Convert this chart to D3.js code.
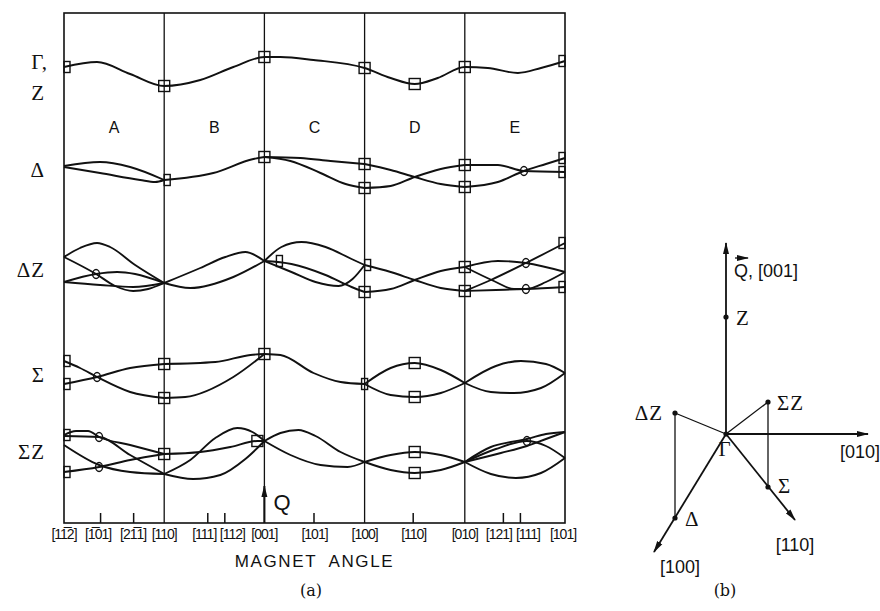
<!DOCTYPE html>
<html>
<head>
<meta charset="utf-8">
<script src="https://cdn.jsdelivr.net/npm/d3@7"></script>
<style>
  body { margin: 0; background: #fff; }
</style>
</head>
<body>
<script>
// ---- data: x in segment units (0..5 = [112] .. [101]), y in arbitrary energy units ----
const segLetters = ['A', 'B', 'C', 'D', 'E'];
const segLetterV = 39.6;
const dividers = [1, 2, 3, 4];
const minorTicks = [0.36, 0.69, 1.43, 1.6, 2.49, 3.48, 4.38, 4.55];
const tickLabels = ['[11\u03052]', '[1\u030501]', '[21\u03051]', '[110]', '[111]', '[112]', '[001]',
  '[101]', '[100]', '[110]', '[010]', '[121]', '[111]', '[101]'];
const tickLabelAt = [0, 0.34, 0.69, 1.0, 1.4, 1.68, 2, 2.5, 3, 3.49, 4, 4.34, 4.63, 4.98];

const bandLabels = ['\u0393,', 'Z', '\u0394', '\u0394Z', '\u03A3', '\u03A3Z'];
const bandLabelV = [46.1, 43.0, 35.3, 25.3, 14.8, 7.1];

const gammaZ = [
  [[0, 45.6], [0.33, 46.1], [0.66, 44.9], [1, 43.7], [1.36, 44.3], [1.69, 45.6], [2, 46.6],
   [2.16, 46.6], [2.49, 46.3], [3, 45.5], [3.26, 44.5], [3.5, 43.9], [3.73, 44.5], [4, 45.6],
   [4.23, 45.5], [4.53, 45.0], [4.76, 45.5], [5, 46.2]]
];
const delta = [
  [[0, 35.7], [0.36, 36.1], [0.66, 35.6], [1, 34.3]],
  [[0, 35.6], [0.36, 35.0], [0.76, 34.3], [0.91, 34.1], [1, 34.3]],
  [[1, 34.3], [1.49, 35.0], [1.89, 36.4], [2, 36.6]],
  [[2, 36.6], [2.36, 36.5], [2.66, 36.2], [3, 35.9]],
  [[2, 36.6], [2.26, 36.2], [2.56, 35.0], [2.81, 33.9], [3, 33.5]],
  [[3, 35.9], [3.26, 35.3], [3.5, 34.6], [3.76, 33.9], [4, 33.6]],
  [[3, 33.5], [3.26, 33.7], [3.5, 34.6], [3.76, 35.4], [4, 35.8]],
  [[4, 35.8], [4.33, 35.8], [4.59, 35.2], [5, 35.1]],
  [[4, 33.6], [4.33, 34.1], [4.59, 35.2], [4.81, 35.9], [5, 36.5]]
];
const deltaZ = [
  [[0, 26.6], [0.16, 27.5], [0.33, 28.0], [0.46, 27.6], [0.71, 25.8], [1, 24.0]],
  [[0, 26.6], [0.32, 24.9], [0.51, 23.7], [0.69, 23.2], [0.84, 23.4], [1, 24.0]],
  [[0, 24.1], [0.32, 24.9], [0.53, 25.1], [0.71, 24.9], [1, 24.0]],
  [[0, 24.1], [0.36, 23.8], [0.69, 23.6], [1, 24.0]],
  [[1, 24.0], [1.36, 25.5], [1.61, 26.6], [1.81, 27.1], [2, 26.2]],
  [[1, 24.0], [1.26, 23.5], [1.69, 24.6], [2, 26.2]],
  [[2, 26.2], [2.17, 27.6], [2.37, 28.1], [2.61, 27.6], [2.87, 26.4], [3, 25.8]],
  [[2, 26.2], [2.27, 25.9], [2.61, 24.8], [2.87, 23.6], [3, 23.1]],
  [[2, 26.2], [2.27, 25.1], [2.51, 24.1], [2.74, 23.7], [2.88, 24.4], [3, 25.8]],
  [[3, 25.8], [3.26, 25.1], [3.5, 24.3], [3.76, 23.5], [4, 23.2]],
  [[3, 23.1], [3.26, 23.4], [3.5, 24.3], [3.76, 25.2], [4, 25.6]],
  [[4, 25.6], [4.33, 26.2], [4.61, 26.0], [5, 25.1]],
  [[4, 25.6], [4.29, 24.2], [4.49, 23.4], [4.61, 23.4], [4.81, 24.1], [5, 25.1]],
  [[4, 23.2], [4.31, 23.3], [4.61, 23.4], [5, 23.6]],
  [[4, 23.2], [4.26, 24.3], [4.61, 26.0], [5, 28.0]]
];
const sigma = [
  [[0, 16.2], [0.16, 15.5], [0.33, 14.6], [0.66, 13.1], [1, 12.5]],
  [[0, 13.9], [0.33, 14.6], [0.66, 15.5], [1, 15.9]],
  [[1, 15.9], [1.51, 16.1], [1.86, 16.8], [2, 16.9]],
  [[1, 12.5], [1.21, 12.6], [1.69, 14.6], [2, 16.9]],
  [[2, 16.9], [2.16, 16.8], [2.49, 15.0], [2.76, 14.1], [3, 13.9]],
  [[3, 13.9], [3.26, 15.5], [3.5, 16.0], [3.76, 15.3], [4, 14.0]],
  [[3, 13.9], [3.26, 12.8], [3.5, 12.6], [3.76, 13.0], [4, 14.0]],
  [[4, 14.0], [4.31, 15.7], [4.56, 16.2], [4.81, 15.9], [5, 15.0]],
  [[4, 14.0], [4.26, 13.1], [4.49, 13.0], [4.76, 13.5], [5, 15.0]]
];
const sigmaZ = [
  [[0, 8.8], [0.12, 9.2], [0.24, 9.2], [0.35, 8.6], [0.66, 7.8], [1, 6.9]],
  [[0, 8.7], [0.35, 8.6], [0.66, 6.8], [1, 4.9]],
  [[0, 7.8], [0.35, 5.8], [0.66, 5.1], [1, 4.9]],
  [[0, 5.1], [0.35, 5.6], [0.66, 6.3], [1, 6.9]],
  [[1, 6.9], [1.36, 7.1], [1.66, 7.6], [1.93, 8.2], [2, 8.2]],
  [[1, 4.9], [1.29, 4.4], [1.56, 4.8], [1.81, 6.4], [2, 8.2]],
  [[1, 4.9], [1.26, 6.3], [1.51, 8.5], [1.73, 9.5], [1.88, 9.1], [2, 8.2]],
  [[2, 8.2], [2.16, 9.0], [2.34, 9.3], [2.51, 8.7], [2.76, 7.1], [3, 6.1]],
  [[2, 8.2], [2.26, 6.8], [2.56, 5.8], [2.83, 5.6], [3, 6.1]],
  [[3, 6.1], [3.26, 6.8], [3.5, 7.1], [3.76, 6.8], [4, 6.1]],
  [[3, 6.1], [3.26, 5.3], [3.5, 5.0], [3.76, 5.3], [4, 6.1]],
  [[4, 6.1], [4.26, 7.6], [4.46, 8.1], [4.62, 8.4], [4.81, 8.9], [5, 9.1]],
  [[4, 6.1], [4.31, 7.4], [4.62, 8.2], [4.81, 7.7], [5, 6.5]],
  [[4, 6.1], [4.36, 7.0], [4.62, 7.7], [4.81, 8.4], [5, 9.1]],
  [[4, 6.1], [4.26, 4.9], [4.51, 4.5], [4.76, 5.0], [5, 6.5]]
];

// markers
const squares = [[1, 43.7], [2, 46.6], [3, 45.5], [3.5, 43.9], [4, 45.6],
  [2, 36.6], [3, 35.9], [3, 33.5], [4, 35.8], [4, 33.6],
  [3, 23.1], [4, 25.6], [4, 23.2],
  [1, 15.9], [1, 12.5], [2, 16.9], [3.5, 16.0], [3.5, 12.6],
  [1, 6.9], [1.93, 8.2], [3.5, 7.1], [3.5, 5.0]];
const halfRightOf = [[0, 45.6], [1, 34.3], [2.12, 26.2], [3, 25.8], [0, 16.2], [0, 13.9], [2.97, 13.9], [0, 8.8], [0, 5.1]];
const halfLeftOf = [[5, 46.2], [5, 36.5], [5, 35.1], [5, 28.0], [5, 23.6]];
const rings = [[4.59, 35.2], [0.32, 24.9], [4.61, 26.0], [4.61, 23.4], [0.33, 14.6],
  [0.35, 8.6], [0.35, 5.6], [4.62, 8.2]];
const qArrowTop = 3.7;

// panel (b): points in its own units, origin at Gamma
const bPoints = [
  { name: '\u0393', p: [0, 0] },
  { name: 'Z', p: [0, 1.17] },
  { name: '\u0394Z', p: [-0.51, 0.21] },
  { name: '\u0394', p: [-0.51, -0.84] },
  { name: '\u03A3', p: [0.42, -0.53] },
  { name: '\u03A3Z', p: [0.42, 0.32] }
];
const bArrows = [
  { name: '[001]', tip: [0, 1.91] },
  { name: '[100]', tip: [-0.72, -1.18] },
  { name: '[110]', tip: [0.69, -0.86] },
  { name: '[010]', tip: [1.42, 0] }
];
const bLinks = [['\u0393', '\u0394Z'], ['\u0394Z', '\u0394'], ['\u0393', '\u03A3Z'], ['\u03A3Z', '\u03A3']];

// ---- drawing ----
const width = 880, height = 611;
const marginLeft = 64, plotRight = 565, marginTop = 13, plotBottom = 523;
const ink = '#111';

const svg = d3.select('body').append('svg')
  .attr('width', width)
  .attr('height', height)
  .attr('viewBox', [0, 0, width, height]);

const defs = svg.append('defs');
defs.append('marker')
  .attr('id', 'head')
  .attr('viewBox', '0 0 12 8')
  .attr('refX', 11).attr('refY', 4)
  .attr('markerWidth', 12).attr('markerHeight', 8)
  .attr('markerUnits', 'userSpaceOnUse')
  .attr('orient', 'auto')
  .append('path')
  .attr('d', 'M0,1 L12,4 L0,7 Z')
  .attr('fill', ink);

const x = d3.scaleLinear([0, 5], [marginLeft, plotRight]);
const y = d3.scaleLinear([0, 51], [plotBottom, marginTop]);

// frame
svg.append('rect')
  .attr('x', marginLeft).attr('y', marginTop)
  .attr('width', plotRight - marginLeft).attr('height', plotBottom - marginTop)
  .attr('fill', 'none').attr('stroke', ink).attr('stroke-width', 1.6);

svg.append('g')
  .selectAll('line')
  .data(dividers)
  .join('line')
  .attr('x1', d => x(d)).attr('x2', d => x(d))
  .attr('y1', marginTop).attr('y2', plotBottom)
  .attr('stroke', ink).attr('stroke-width', 1.3);

// bottom axis: small inward ticks, labels placed separately
const axis = svg.append('g')
  .attr('transform', `translate(0,${plotBottom})`)
  .call(d3.axisBottom(x).tickValues(minorTicks).tickSize(-10).tickFormat(''));
axis.select('.domain').remove();
axis.selectAll('.tick line').attr('stroke', ink).attr('stroke-width', 1.5);

svg.append('g')
  .selectAll('text')
  .data(tickLabels)
  .join('text')
  .attr('x', (d, i) => x(tickLabelAt[i]))
  .attr('y', plotBottom + 16)
  .attr('text-anchor', 'middle')
  .style('font-family', 'Liberation Sans, Arial, sans-serif')
  .style('font-size', '14px')
  .style('letter-spacing', '-1px')
  .attr('fill', ink)
  .text(d => d);

svg.append('text')
  .attr('x', x(2.5))
  .attr('y', 567)
  .attr('text-anchor', 'middle')
  .style('font-family', 'Liberation Sans, Arial, sans-serif')
  .style('font-size', '17px')
  .style('letter-spacing', '1.6px')
  .style('white-space', 'pre')
  .attr('fill', ink)
  .text('MAGNET  ANGLE');

svg.append('text')
  .attr('x', 311).attr('y', 596)
  .attr('text-anchor', 'middle')
  .style('font-family', 'DejaVu Serif, serif')
  .style('font-size', '16px')
  .attr('fill', ink)
  .text('(a)');

// Q arrow on the [001] line
svg.append('line')
  .attr('x1', x(2)).attr('x2', x(2))
  .attr('y1', y(0)).attr('y2', y(qArrowTop))
  .attr('stroke', ink).attr('stroke-width', 2)
  .attr('marker-end', 'url(#head)');
svg.append('text')
  .attr('x', x(2) + 9).attr('y', y(1.3))
  .style('font-family', 'Liberation Sans, Arial, sans-serif')
  .style('font-size', '22px')
  .attr('fill', ink)
  .text('Q');

// segment letters
svg.append('g')
  .selectAll('text')
  .data(segLetters)
  .join('text')
  .attr('x', (d, i) => x(i + 0.5))
  .attr('y', y(segLetterV))
  .attr('dy', '0.35em')
  .attr('text-anchor', 'middle')
  .style('font-family', 'Liberation Sans, Arial, sans-serif')
  .style('font-size', '16px')
  .attr('fill', ink)
  .text(d => d);

// band labels on the left
svg.append('g')
  .selectAll('text')
  .data(bandLabels)
  .join('text')
  .attr('x', (d, i) => i === 0 ? 48 : 45)
  .attr('y', (d, i) => y(bandLabelV[i]))
  .attr('dy', '0.35em')
  .attr('text-anchor', 'end')
  .style('font-family', 'Liberation Serif, Times New Roman, serif')
  .style('font-size', '21px')
  .style('letter-spacing', '1px')
  .attr('fill', ink)
  .text(d => d);

// curves
const line = d3.line()
  .x(d => x(d[0]))
  .y(d => y(d[1]))
  .curve(d3.curveMonotoneX);

const allCurves = [].concat(gammaZ, delta, deltaZ, sigma, sigmaZ);
svg.append('g')
  .selectAll('path')
  .data(allCurves)
  .join('path')
  .attr('d', line)
  .attr('fill', 'none')
  .attr('stroke', ink)
  .attr('stroke-width', 1.9);

// markers
const mk = svg.append('g')
  .attr('fill', 'none')
  .attr('stroke', ink)
  .attr('stroke-width', 1.4);
mk.selectAll('rect.full')
  .data(squares)
  .join('rect')
  .attr('class', 'full')
  .attr('x', d => x(d[0]) - 5.5).attr('y', d => y(d[1]) - 5.5)
  .attr('width', 11).attr('height', 11);
mk.selectAll('rect.hr')
  .data(halfRightOf)
  .join('rect')
  .attr('class', 'hr')
  .attr('x', d => x(d[0])).attr('y', d => y(d[1]) - 5.5)
  .attr('width', 6).attr('height', 11);
mk.selectAll('rect.hl')
  .data(halfLeftOf)
  .join('rect')
  .attr('class', 'hl')
  .attr('x', d => x(d[0]) - 6).attr('y', d => y(d[1]) - 5.5)
  .attr('width', 6).attr('height', 11);
mk.selectAll('ellipse')
  .data(rings)
  .join('ellipse')
  .attr('cx', d => x(d[0])).attr('cy', d => y(d[1]))
  .attr('rx', 3.5).attr('ry', 4.5);

// ---- panel (b) ----
const bx = d3.scaleLinear([0, 1], [726, 826]);
const by = d3.scaleLinear([0, 1], [434, 334]);
const pt = name => bPoints.find(p => p.name === name).p;
const pb = svg.append('g');

pb.selectAll('line.arrow')
  .data(bArrows)
  .join('line')
  .attr('class', 'arrow')
  .attr('x1', bx(0)).attr('y1', by(0))
  .attr('x2', d => bx(d.tip[0])).attr('y2', d => by(d.tip[1]))
  .attr('stroke', ink).attr('stroke-width', 1.8)
  .attr('marker-end', 'url(#head)');

pb.selectAll('line.link')
  .data(bLinks)
  .join('line')
  .attr('class', 'link')
  .attr('x1', d => bx(pt(d[0])[0])).attr('y1', d => by(pt(d[0])[1]))
  .attr('x2', d => bx(pt(d[1])[0])).attr('y2', d => by(pt(d[1])[1]))
  .attr('stroke', ink).attr('stroke-width', 1.3);

pb.selectAll('circle')
  .data(bPoints)
  .join('circle')
  .attr('cx', d => bx(d.p[0])).attr('cy', d => by(d.p[1]))
  .attr('r', 2.6)
  .attr('fill', ink);

// labels for points (offsets in px)
const bLabelOffset = {
  '\u0393': [-1, 22, 'middle'],
  'Z': [10, 8, 'start'],
  '\u0394Z': [-12, 7, 'end'],
  '\u0394': [10, 8, 'start'],
  '\u03A3': [10, 6, 'start'],
  '\u03A3Z': [9, 8, 'start']
};
pb.selectAll('text.pt')
  .data(bPoints)
  .join('text')
  .attr('class', 'pt')
  .attr('x', d => bx(d.p[0]) + bLabelOffset[d.name][0])
  .attr('y', d => by(d.p[1]) + bLabelOffset[d.name][1])
  .attr('text-anchor', d => bLabelOffset[d.name][2])
  .style('font-family', 'Liberation Serif, Times New Roman, serif')
  .style('font-size', '21px')
  .style('letter-spacing', '1px')
  .attr('fill', ink)
  .text(d => d.name);

const arrowLabelOffset = {
  '[001]': [8, 34, 'start'],
  '[100]': [26, 21, 'middle'],
  '[110]': [0, 31, 'middle'],
  '[010]': [-8, 24, 'middle']
};
pb.selectAll('text.ax')
  .data(bArrows)
  .join('text')
  .attr('class', 'ax')
  .attr('x', d => bx(d.tip[0]) + arrowLabelOffset[d.name][0])
  .attr('y', d => by(d.tip[1]) + arrowLabelOffset[d.name][1])
  .attr('text-anchor', d => arrowLabelOffset[d.name][2])
  .style('font-family', 'Liberation Sans, Arial, sans-serif')
  .style('font-size', '18px')
  .attr('fill', ink)
  .text(d => d.name === '[001]' ? 'Q, [001]' : d.name);

// little vector arrow over Q
const q = bArrows[0].tip;
pb.append('line')
  .attr('x1', bx(q[0]) + 9).attr('x2', bx(q[0]) + 22)
  .attr('y1', by(q[1]) + 15).attr('y2', by(q[1]) + 15)
  .attr('stroke', ink).attr('stroke-width', 1.3)
  .attr('marker-end', 'url(#head)');

svg.append('text')
  .attr('x', 725).attr('y', 596)
  .attr('text-anchor', 'middle')
  .style('font-family', 'DejaVu Serif, serif')
  .style('font-size', '16px')
  .attr('fill', ink)
  .text('(b)');
</script>
</body>
</html>
